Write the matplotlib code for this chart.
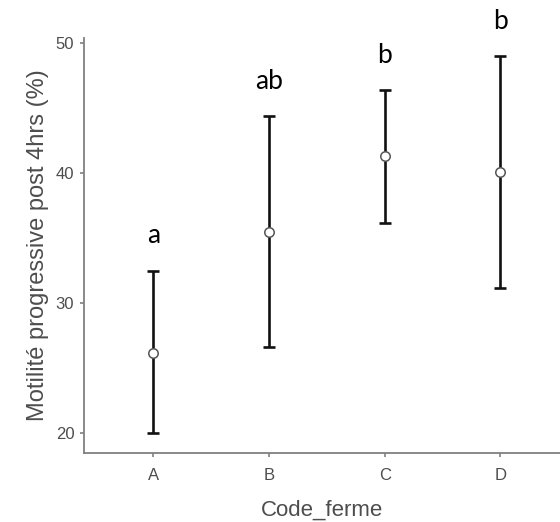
import matplotlib
matplotlib.use("Agg")
import matplotlib.pyplot as plt

# data
farms = ["A", "B", "C", "D"]
means = [26.2, 35.5, 41.3, 40.1]
lower = [20.0, 26.6, 36.2, 31.2]
upper = [32.5, 44.4, 46.4, 49.0]
letters = ["a", "ab", "b", "b"]

plt.rcParams["font.family"] = ["Liberation Sans", "DejaVu Sans"]

fig = plt.figure(figsize=(5.6, 5.22), dpi=100, facecolor="white")
ax = fig.add_axes([0.150, 0.133, 0.85, 0.794])

x = list(range(1, len(farms) + 1))
err_lo = [m - l for m, l in zip(means, lower)]
err_hi = [u - m for m, u in zip(means, upper)]

ax.errorbar(x, means, yerr=[err_lo, err_hi], fmt="none", ecolor="#111111",
            elinewidth=1.9, capsize=4.4, capthick=1.9, zorder=2)
ax.plot(x, means, "o", ms=6.8, mfc="white", mec="#555555", mew=1.1, zorder=3)

# significance letters above each upper bar
for xi, top, lab in zip(x, upper, letters):
    ax.annotate(lab, (xi, top), xytext=(0, 25), textcoords="offset points",
                ha="center", va="center", fontsize=19, color="black",
                family=["Lato", "DejaVu Sans"], annotation_clip=False)

ax.set_xlim(0.4, 4.515)
ax.set_ylim(18.5, 50.4)
ax.set_xticks(x)
ax.set_xticklabels(farms)
ax.set_yticks([20, 30, 40, 50])

for side in ["top", "right"]:
    ax.spines[side].set_visible(False)
for side in ["left", "bottom"]:
    ax.spines[side].set_color("#808080")
    ax.spines[side].set_linewidth(1.3)

ax.tick_params(axis="both", colors="#808080", length=3, width=1.2,
               labelcolor="#4d4d4d", labelsize=12)
ax.tick_params(axis="y", pad=4)
ax.tick_params(axis="x", pad=8)

ax.set_ylabel("Motilité progressive post 4hrs (%)", fontsize=17,
              color="#4d4d4d", labelpad=5)
ax.set_xlabel("Code_ferme", fontsize=16, color="#4d4d4d", labelpad=12)

fig.savefig("out.png", dpi=100, facecolor="white")
